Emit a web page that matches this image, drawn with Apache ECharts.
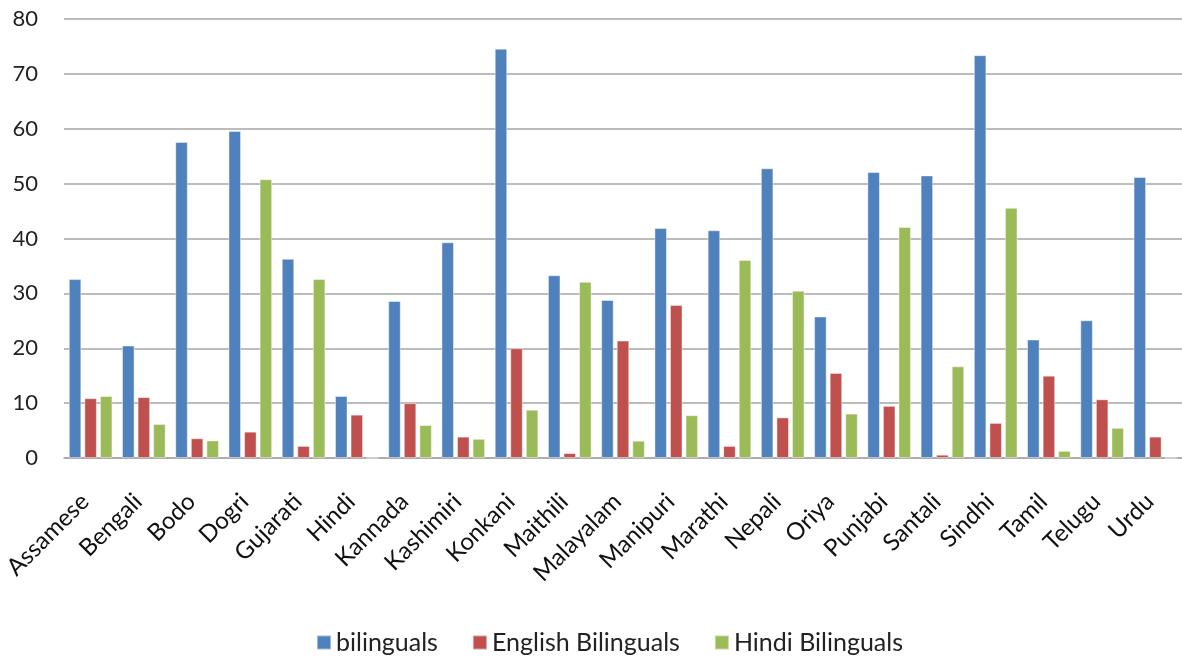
<!DOCTYPE html>
<html>
<head>
<meta charset="utf-8">
<script src="https://cdn.jsdelivr.net/npm/echarts@6/dist/echarts.min.js"></script>
<style>
  html, body { margin: 0; padding: 0; background: #fff; }
  #chart { width: 1182px; height: 659px; }
</style>
</head>
<body>
<div id="chart"></div>
<script>
const categories = ["Assamese","Bengali","Bodo","Dogri","Gujarati","Hindi","Kannada","Kashimiri","Konkani","Maithili","Malayalam","Manipuri","Marathi","Nepali","Oriya","Punjabi","Santali","Sindhi","Tamil","Telugu","Urdu"];
const bilinguals        = [32.6, 20.5, 57.6, 59.6, 36.3, 11.3, 28.6, 39.3, 74.6, 33.3, 28.8, 41.9, 41.5, 52.8, 25.8, 52.1, 51.5, 73.4, 21.6, 25.1, 51.2];
const englishBilinguals = [10.9, 11.1, 3.6, 4.8, 2.2, 7.9, 10.0, 3.9, 20.0, 0.9, 21.4, 27.9, 2.2, 7.4, 15.5, 9.5, 0.6, 6.4, 15.0, 10.7, 3.9];
const hindiBilinguals   = [11.3, 6.2, 3.2, 50.8, 32.6, 0, 6.0, 3.5, 8.8, 32.1, 3.15, 7.8, 36.1, 30.5, 8.1, 42.1, 16.7, 45.6, 1.3, 5.5, 0];
const yTicks = [0, 10, 20, 30, 40, 50, 60, 70, 80];

const FONT = 'Lato, "Open Sans", sans-serif';
const chart = echarts.init(document.getElementById('chart'), null, { renderer: 'canvas' });
const barStyle = (c) => ({ color: c, borderColor: 'rgba(255,255,255,0.45)', borderWidth: 1 });
chart.setOption({
  animation: false,
  textStyle: { fontFamily: FONT },
  grid: { left: 64, top: 19, width: 1138, height: 439, containLabel: false },
  legend: {
    top: 625,
    left: 311,
    itemWidth: 14, itemHeight: 14, itemGap: 34,
    icon: 'rect',
    textStyle: { fontSize: 25, color: '#222', fontFamily: FONT },
    data: ['bilinguals', 'English Bilinguals', 'Hindi Bilinguals']
  },
  xAxis: {
    type: 'category',
    data: categories,
    axisLine: { show: true, lineStyle: { color: '#a6a6a6', width: 1.5 } },
    axisTick: { show: false },
    axisLabel: { rotate: 45, fontSize: 24, color: '#111', margin: 34, padding: [0, 8, 0, 0], interval: 0, fontFamily: FONT }
  },
  yAxis: {
    type: 'value',
    min: 0, max: 80, interval: 10,
    axisLine: { show: false },
    axisTick: { show: false },
    splitLine: { lineStyle: { color: '#a6a6a6', width: 1.5 } },
    axisLabel: { fontSize: 22, color: '#222', margin: 26, fontFamily: FONT,
      formatter: (v) => yTicks.includes(v) ? String(v) : '' }
  },
  series: [
    { name: 'bilinguals', type: 'bar', data: bilinguals, barGap: '24%', barCategoryGap: '18%', itemStyle: barStyle('#4f81bd') },
    { name: 'English Bilinguals', type: 'bar', data: englishBilinguals, barGap: '24%', barCategoryGap: '18%', itemStyle: barStyle('#c0504d') },
    { name: 'Hindi Bilinguals', type: 'bar', data: hindiBilinguals, barGap: '24%', barCategoryGap: '18%', itemStyle: barStyle('#9bbb59') }
  ]
});
</script>
</body>
</html>
